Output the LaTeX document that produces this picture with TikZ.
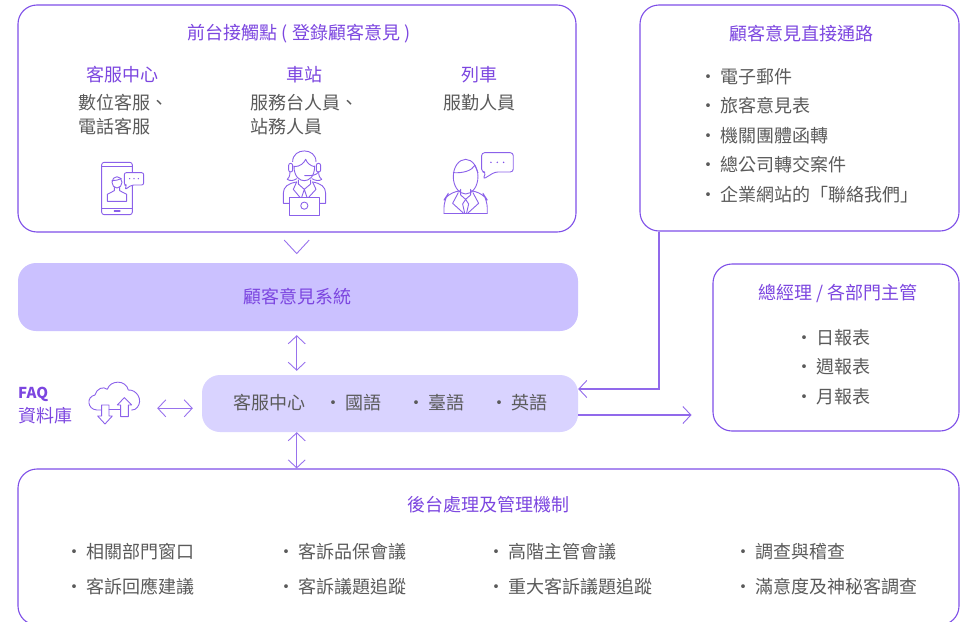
\documentclass[tikz,border=0pt]{standalone}
\usepackage{fontspec}
\setmainfont{Noto Sans CJK TC}
\usetikzlibrary{arrows.meta}
\definecolor{vline}{HTML}{7E4FE8}
\definecolor{vtext}{HTML}{7C46E0}
\definecolor{vfill}{HTML}{CBC1FF}
\definecolor{vfillb}{HTML}{D9D3FF}
\definecolor{body}{HTML}{5A5A5A}
\tikzset{
  box/.style={draw=vline,line width=1.1pt,rounded corners=19pt,fill=white,inner sep=0pt},
  solid box/.style={rounded corners=18pt,inner sep=0pt},
  head/.style={text=vtext,font=\fontsize{18}{20}\selectfont,inner sep=0pt},
  txt/.style={text=body,font=\fontsize{18}{20}\selectfont,inner sep=0pt,anchor=west},
  dbl/.style={draw=vline!80,line width=1pt,{Straight Barb[length=8pt,width=17pt,line width=.9pt]}-{Straight Barb[length=8pt,width=17pt,line width=.9pt]}},
  sgl/.style={draw=vline!85,line width=1.1pt,-{Straight Barb[length=8pt,width=17pt,line width=.9pt]}},
  ico/.style={draw=vline!90,line width=.9pt,line join=round,line cap=round},
  zoomed/.style={x=0.3333pt,y=-0.3333pt}
}
\newcommand{\bl}[1]{•\hspace{3pt}#1}
\begin{document}
\begin{tikzpicture}[x=1pt,y=-1pt]
\useasboundingbox (0,0) rectangle (971,621);
\clip (0,0) rectangle (971,621);
% boxes
\node[box,minimum width=558pt,minimum height=227pt] (front) at (297,118.5) {};
\node[box,minimum width=319pt,minimum height=226pt] (direct) at (799.5,118) {};
\node[solid box,fill=vfill,minimum width=560pt,minimum height=68pt] (sys) at (298,297) {};
\node[solid box,fill=vfillb,minimum width=376pt,minimum height=57pt] (cs) at (390,403.5) {};
\node[box,minimum width=246pt,minimum height=167pt] (mgr) at (836,347.5) {};
\node[box,minimum width=941pt,minimum height=156pt] (back) at (488.5,547) {};
\node[inner sep=0pt,minimum width=52pt,minimum height=40pt] (cloud) at (115,404) {};
\coordinate (ax) at (296.7,0);
\coordinate (ay) at (0,408.3);
\coordinate (by) at (0,389);
\coordinate (bx) at (659,0);
\coordinate (cy) at (0,415);
\coordinate (ex) at (691.5,0);
% connectors
\draw[dbl,shorten <=4pt,shorten >=4pt] (sys.south -| ax) -- (cs.north -| ax);
\draw[dbl,shorten >=0pt] (cs.south -| ax) -- (back.north -| ax);
\draw[dbl,shorten <=16pt,shorten >=9pt] (cloud.east |- ay) -- (cs.west |- ay);
\draw[sgl] (direct.south -| bx) -- (bx |- by) -- (cs.east |- by);
\draw[sgl] (cs.east |- cy) -- (ex |- cy);
\coordinate (chl) at ([xshift=-12.5pt,yshift=-7.5pt]front.south -| ax);
\coordinate (chm) at ([yshift=-21pt]front.south -| ax);
\coordinate (chr) at ([xshift=12.5pt,yshift=-7.5pt]front.south -| ax);
\draw[draw=vline!80,line width=.9pt] (chl) -- (chm) -- (chr);
% texts: front
\node[head] (t1) at (299,34) {前台接觸點 ( 登錄顧客意見 )};
\node[head] (t2) at (122,75) {客服中心};
\node[head] (t3) at (304,75) {車站};
\node[head] (t4) at (479,75) {列車};
\node[txt] (t5) at (78,103) {數位客服、};
\node[txt] (t6) at (78,127) {電話客服};
\node[txt] (t7) at (250,103) {服務台人員、};
\node[txt] (t8) at (250,127) {站務人員};
\node[txt,anchor=center] (t9) at (479,103) {服勤人員};
% direct
\node[head] (d0) at (801,34) {顧客意見直接通路};
\node[txt] (d1) at (699,77) {\bl{電子郵件}};
\node[txt] (d2) at (699,106) {\bl{旅客意見表}};
\node[txt] (d3) at (699,136) {\bl{機關團體函轉}};
\node[txt] (d4) at (699,165) {\bl{總公司轉交案件}};
\node[txt] (d5) at (699,195) {\bl{企業網站的「聯絡我們」}};
% mgr
\node[head] (m0) at (838,293) {總經理 / 各部門主管};
\node[txt] (m1) at (795,338) {\bl{日報表}};
\node[txt] (m2) at (795,367) {\bl{週報表}};
\node[txt] (m3) at (795,397) {\bl{月報表}};
% sys, cs
\node[head] (s0) at (297,297) {顧客意見系統};
\node[txt] (c0) at (233,403) {客服中心};
\node[txt] (c1) at (324,403) {\bl{國語}};
\node[txt] (c2) at (407,403) {\bl{臺語}};
\node[txt] (c3) at (490,403) {\bl{英語}};
% FAQ
\node[text=vtext,font=\fontsize{15}{17}\selectfont\bfseries,inner sep=0pt,anchor=west] (f1) at (18,394) {FAQ};
\node[text=vtext,font=\fontsize{18}{20}\selectfont,inner sep=0pt,anchor=west] (f2) at (18,416) {資料庫};
% back
\node[head] (b0) at (488,505) {後台處理及管理機制};
\node[txt] (b1) at (65,552) {\bl{相關部門窗口}};
\node[txt] (b2) at (65,587) {\bl{客訴回應建議}};
\node[txt] (b3) at (277,552) {\bl{客訴品保會議}};
\node[txt] (b4) at (277,587) {\bl{客訴議題追蹤}};
\node[txt] (b5) at (487,552) {\bl{高階主管會議}};
\node[txt] (b6) at (487,587) {\bl{重大客訴議題追蹤}};
\node[txt] (b7) at (734,552) {\bl{調查與稽查}};
\node[txt] (b8) at (734,587) {\bl{滿意度及神秘客調查}};
% icons (zoom coordinates)
\begin{scope}[shift={(70,140)},zoomed,ico]
 % phone
 \draw[rounded corners=2.5pt] (95,67) rectangle (187,224);
 \draw (95,80) -- (187,80) (95,205) -- (187,205);
 \draw[line width=1.2pt] (133,213) -- (150,213);
 \draw[fill=white,rounded corners=2pt] (163,98) -- (221,98) -- (221,135) -- (185,135) -- (165,149) -- (170,135) -- (163,135) -- cycle;
 \foreach \x in {179,192,205} \fill[vline] (\x,116) circle (.7pt);
 \draw (141,127) ellipse (15 and 17);
 \draw (126,122) .. controls (135,122) and (145,120) .. (154,116);
 \draw (133,142) -- (133,152) -- (112,163) -- (112,184) -- (170,184) -- (170,163) -- (149,152) -- (149,142);
 % woman
 \draw (668,65) .. controls (668,22) and (738,22) .. (738,65);
 \draw (672,78) .. controls (672,112) and (690,122) .. (703,122) .. controls (716,122) and (734,112) .. (734,78);
 \draw (672,80) .. controls (690,80) and (702,70) .. (707,58) .. controls (712,70) and (722,78) .. (734,80);
 \draw[rounded corners=2pt] (656,70) rectangle (668,96);
 \draw[rounded corners=2pt] (739,70) rectangle (752,96);
 \draw (745,96) .. controls (742,105) and (725,108) .. (704,107);
 \draw (660,96) .. controls (660,108) and (656,115) .. (652,118) .. controls (660,124) and (672,122) .. (680,116);
 \draw (746,96) .. controls (746,108) and (750,115) .. (755,118) .. controls (748,124) and (735,122) .. (726,116);
 \draw (659,190) -- (640,190) -- (640,160) .. controls (640,140) and (655,130) .. (680,126);
 \draw (748,190) -- (767,190) -- (767,160) .. controls (767,140) and (752,130) .. (728,126);
 \draw (685,120) -- (685,132) -- (703,148) -- (722,132) -- (722,120);
 \draw (680,126) -- (670,148) -- (690,172) (728,126) -- (738,148) -- (716,172);
 \draw (703,148) -- (695,172) (703,148) -- (711,172);
 \draw[fill=white] (659,172) rectangle (748,225);
 \draw (703,197) circle (3.6pt);
 % man
 \draw (1187,110) ellipse (37 and 52);
 \draw (1150,98) .. controls (1180,100) and (1205,92) .. (1215,76) .. controls (1218,85) and (1222,92) .. (1224,98);
 \draw (1172,148) -- (1172,165) -- (1187,178) -- (1202,165) -- (1202,148);
 \draw[rounded corners=8pt] (1122,219) -- (1122,180) -- (1135,160) -- (1172,152);
 \draw[rounded corners=8pt] (1252,219) -- (1252,180) -- (1239,160) -- (1202,152);
 \draw (1122,219) -- (1252,219);
 \draw (1165,158) -- (1148,190) -- (1180,219) (1209,158) -- (1226,190) -- (1194,219);
 \draw (1187,178) -- (1178,192) -- (1184,219) (1187,178) -- (1196,192) -- (1190,219);
 \draw[fill=white,rounded corners=3pt] (1235,38) -- (1330,38) -- (1330,96) -- (1275,96) -- (1239,118) -- (1248,96) -- (1235,96) -- cycle;
 \foreach \x in {1263,1282,1301} \fill[vline] (\x,67) circle (.8pt);
\end{scope}
\begin{scope}[shift={(0,330)},zoomed,ico]
 \draw (302,240) -- (290,240) .. controls (262,238) and (258,200) .. (285,195) .. controls (290,175) and (310,168) .. (322,178) .. controls (330,150) and (378,148) .. (385,180) .. controls (410,178) and (430,210) .. (412,232) .. controls (408,238) and (402,240) .. (395,240);
 \draw (327,239) -- (362,239);
 \draw (305,225) -- (327,225) -- (327,258) -- (337,258) -- (315,282) -- (293,258) -- (305,258) -- cycle;
 \draw (373,203) -- (395,225) -- (385,225) -- (385,260) -- (362,260) -- (362,225) -- (352,225) -- cycle;
\end{scope}
\end{tikzpicture}
\end{document}
